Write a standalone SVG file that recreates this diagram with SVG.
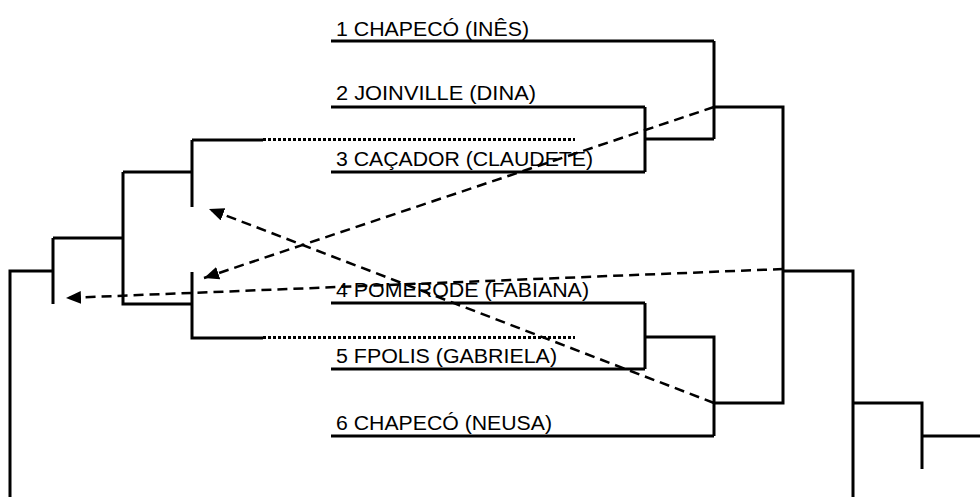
<svg xmlns="http://www.w3.org/2000/svg" width="980" height="497" viewBox="0 0 980 497">
<style>
.s{fill:none;stroke:#000;stroke-width:3;stroke-linejoin:miter;stroke-linecap:butt}
.d{fill:none;stroke:#000;stroke-width:2.5;stroke-dasharray:10 6}
.o{fill:none;stroke:#000;stroke-width:3;stroke-dasharray:3 2}
.t{font-family:"Liberation Sans",Arial,sans-serif;font-size:19.5px;fill:#000}
</style>
<defs>
<marker id="ah" markerUnits="userSpaceOnUse" markerWidth="16" markerHeight="14" refX="15" refY="6.5" orient="auto">
<path d="M0,0 L15,6.5 L0,13 Z" fill="#000"/>
</marker>
</defs>
<rect width="980" height="497" fill="#fff"/>
<g id="team1"><line class="s" x1="331" y1="41" x2="714" y2="41"/><text class="t" x="336" y="36" textLength="193" lengthAdjust="spacingAndGlyphs">1 CHAPECÓ (INÊS)</text></g>
<g id="team2"><line class="s" x1="331" y1="107" x2="645" y2="107"/><text class="t" x="336" y="100" textLength="200" lengthAdjust="spacingAndGlyphs">2 JOINVILLE (DINA)</text></g>
<g id="team3"><line class="s" x1="331" y1="172" x2="645" y2="172"/><text class="t" x="336" y="165.5" textLength="257" lengthAdjust="spacingAndGlyphs">3 CAÇADOR (CLAUDETE)</text></g>
<g id="team4"><line class="s" x1="331" y1="303" x2="645" y2="303"/><text class="t" x="336" y="297" textLength="253" lengthAdjust="spacingAndGlyphs">4 POMERODE (FABIANA)</text></g>
<g id="team5"><line class="s" x1="331" y1="369" x2="645" y2="369"/><text class="t" x="336" y="363" textLength="221" lengthAdjust="spacingAndGlyphs">5 FPOLIS (GABRIELA)</text></g>
<g id="team6"><line class="s" x1="331" y1="436" x2="714" y2="436"/><text class="t" x="336" y="430" textLength="216" lengthAdjust="spacingAndGlyphs">6 CHAPECÓ (NEUSA)</text></g>
<g id="connectors">
<path class="s" d="M645,107 V172 M645,139 H714 M714,41 V139 M714,107 H783 V403 H714 M645,303 V369 M645,337 H714 V436 M783,271 H853 V497 M853,403 H922 V469 M922,436 H980"/>
<path class="s" d="M10,497 V271 H53 M53,238 V304 M53,238 H123 M123,172 V304 H192 M123,172 H192 M192,140 V207 M192,140 H263 M192,272 V338 H263"/>
<line class="o" x1="263" y1="139.5" x2="575" y2="139.5"/>
<line class="o" x1="263" y1="337.5" x2="575" y2="337.5"/>
<line class="d" x1="714" y1="107" x2="204" y2="278" marker-end="url(#ah)"/>
<line class="d" x1="783" y1="269" x2="66" y2="298" marker-end="url(#ah)"/>
<line class="d" x1="714" y1="403" x2="209" y2="209" marker-end="url(#ah)"/>
</g>
</svg>
